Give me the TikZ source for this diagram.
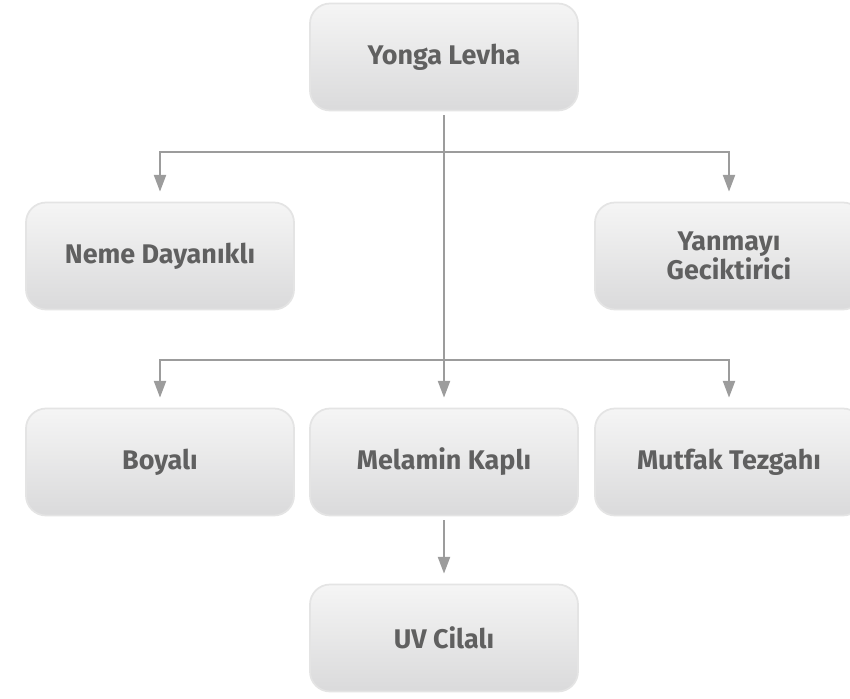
\documentclass[tikz,border=0pt]{standalone}
\usepackage{fontspec}
\setmainfont{Fira Sans}
\usetikzlibrary{arrows.meta}
\definecolor{boxtop}{HTML}{F5F5F5}
\definecolor{boxbot}{HTML}{DADADB}
\definecolor{boxline}{HTML}{E4E4E4}
\definecolor{txt}{HTML}{606060}
\definecolor{conn}{HTML}{9C9C9C}

\begin{document}
\begin{tikzpicture}[x=0.03cm,y=-0.03cm,%
        box/.style={rounded corners=0.6cm, draw=boxline, line width=1.5pt,%
                        top color=boxtop, bottom color=boxbot,%
                        minimum width=8.04cm, minimum height=3.21cm,%
                        align=center, text=txt, font=\fontsize{23}{23}\selectfont\bfseries},
        arr/.style={draw=conn, line width=1.7pt,%
                        -{Triangle[width=0.36cm,length=0.5cm]}, shorten >=0.3cm}]
    \clip (0,0) rectangle (850,698);
    % boxes
    \node[box] (yonga) at (444,57) {Yonga Levha};
    \node[box] (neme) at (160,256) {Neme Dayanıklı};
    \node[box] (yanma) at (729,256) {Yanmayı\\Geciktirici};
    \node[box] (boya) at (160,462) {Boyalı};
    \node[box] (melamin) at (444,462) {Melamin Kaplı};
    \node[box] (mutfak) at (729,462) {Mutfak Tezgahı};
    \node[box] (uv) at (444,638) {UV Cilalı};
    % branch points
    \coordinate (j1) at (444,152);
    \coordinate (j2) at (444,360);
    % connectors
    \draw[arr, shorten <=0.12cm] (yonga) -- (melamin);
    \foreach \t in {neme,yanma} {
        \draw[arr] (j1) -| (\t);
    }
    \foreach \t in {boya,mutfak} {
        \draw[arr] (j2) -| (\t);
    }
    \draw[arr, shorten <=0.12cm] (melamin) -- (uv);
\end{tikzpicture}
\end{document}
